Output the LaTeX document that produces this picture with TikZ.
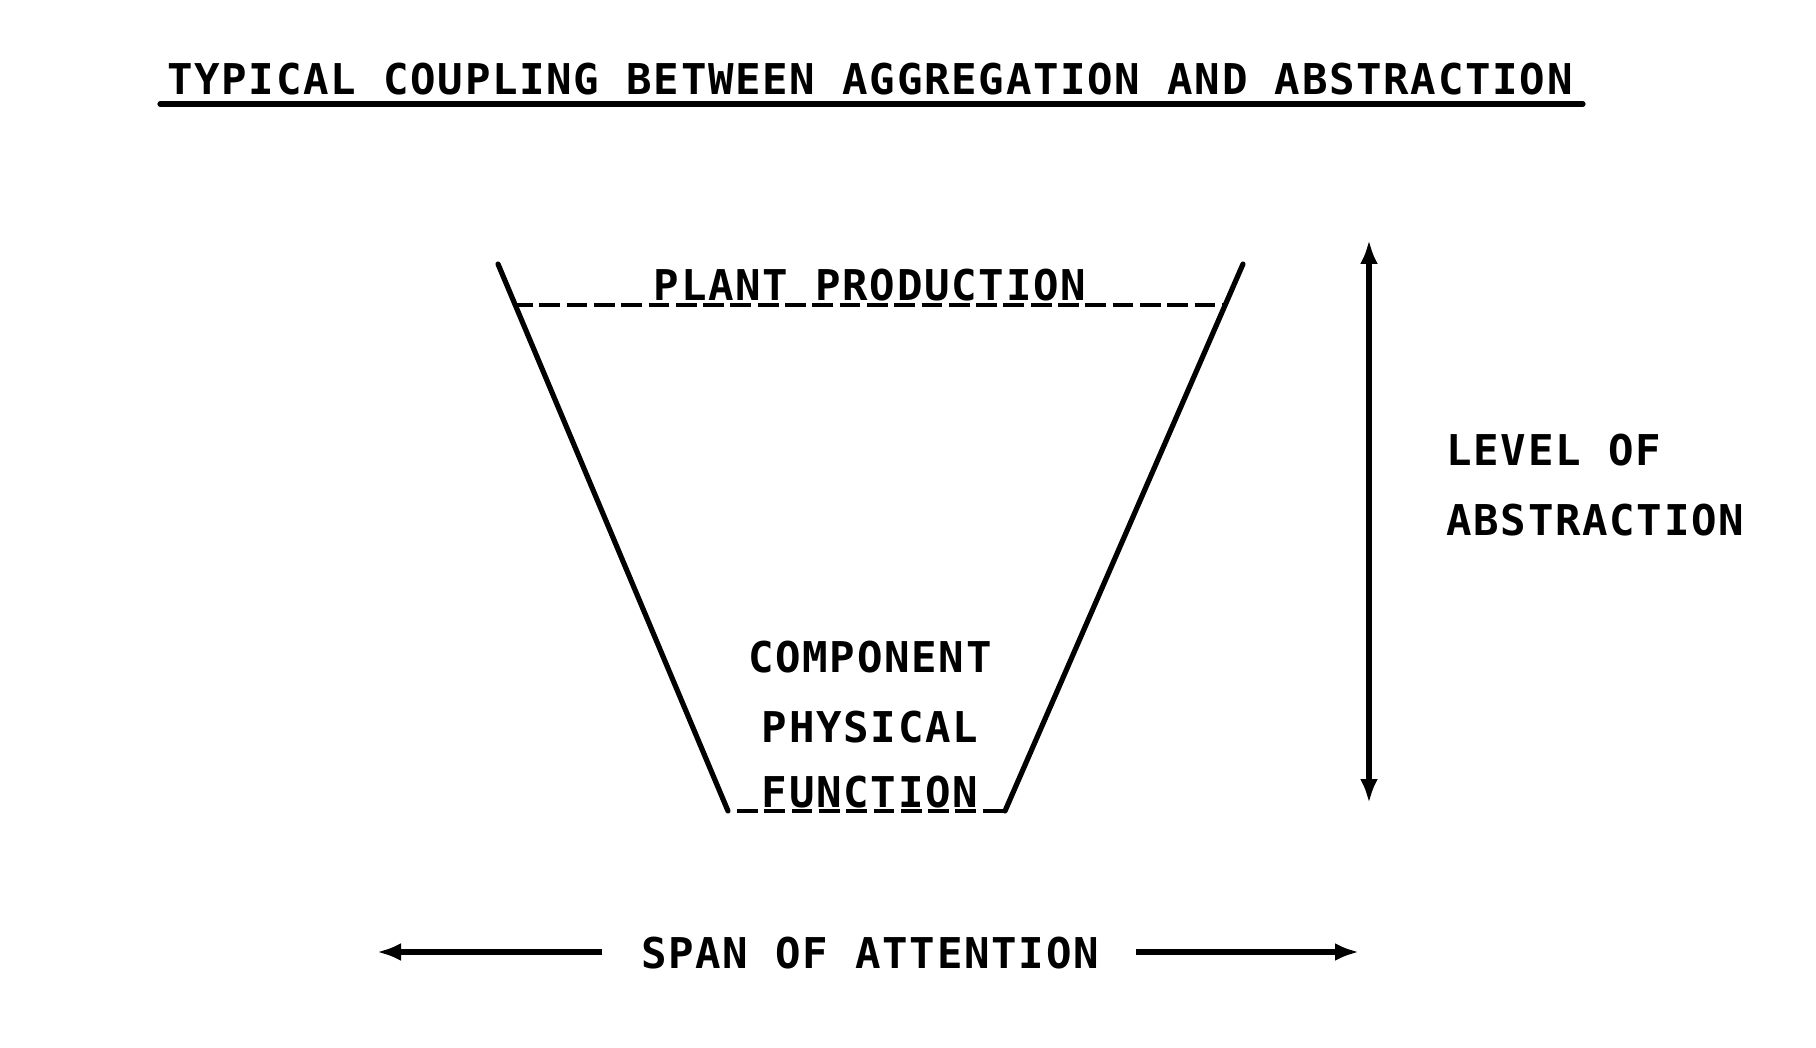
\documentclass[tikz,border=0pt]{standalone}
\usepackage{fontspec}
\setmonofont[LetterSpace=4,UprightFont={* Bold}]{DejaVu Sans Mono}
\usetikzlibrary{arrows.meta}
\begin{document}
\begin{tikzpicture}[x=0.5pt,y=-0.5pt,
  lbl/.style={inner sep=0pt,font=\ttfamily\fontsize{21.2}{24}\selectfont},
  solidline/.style={line width=2.6pt,line cap=round},
  typeunder/.style={line width=2.4pt,dash pattern=on 10.4pt off 3.25pt},
  arr/.style={line width=2.6pt,-{Latex[length=12pt,width=9pt]}},
  darr/.style={line width=2.6pt,{Latex[length=12pt,width=9pt]}-{Latex[length=12pt,width=9pt]}}]
\useasboundingbox (0,0) rectangle (1816,1048);
% title
\node[lbl,anchor=base] (title) at (870,95) {TYPICAL COUPLING BETWEEN AGGREGATION AND ABSTRACTION};
\coordinate (tl) at (160,104);
\coordinate (tr) at (1583,104);
\draw[solidline] (tl) -- (tr);
% trapezoid
\coordinate (lt) at (498,264);
\coordinate (lb) at (728,811);
\coordinate (rt) at (1243,264);
\coordinate (rb) at (1005,811);
\draw[solidline] (lt) -- (lb);
\draw[solidline] (rt) -- (rb);
\coordinate (dl) at (516,305);
\coordinate (dr) at (1225,305);
\draw[typeunder,dash phase=2pt] (dl) -- (dr);
\coordinate (bl) at (737,811);
\draw[typeunder] (bl) -- (rb);
\node[lbl,anchor=base] (pp) at (870,300) {PLANT PRODUCTION};
\node[lbl,anchor=base] (comp) at (870,672) {COMPONENT};
\node[lbl,anchor=base] (phys) at (870,742) {PHYSICAL};
\node[lbl,anchor=base] (func) at (870,807) {FUNCTION};
% vertical arrow
\coordinate (vt) at (1369,240);
\coordinate (vb) at (1369,803);
\draw[darr] (vb) -- (vt);
\node[lbl,anchor=base west] (level) at (1446,466) {LEVEL OF};
\node[lbl,anchor=base west] (abstr) at (1446,535) {ABSTRACTION};
% span of attention
\node[lbl,anchor=base] (span) at (870,968) {SPAN OF ATTENTION};
\coordinate (hls) at (602,952);
\coordinate (hl) at (377,952);
\coordinate (hrs) at (1136,952);
\coordinate (hr) at (1359,952);
\draw[arr] (hls) -- (hl);
\draw[arr] (hrs) -- (hr);
\end{tikzpicture}
\end{document}
